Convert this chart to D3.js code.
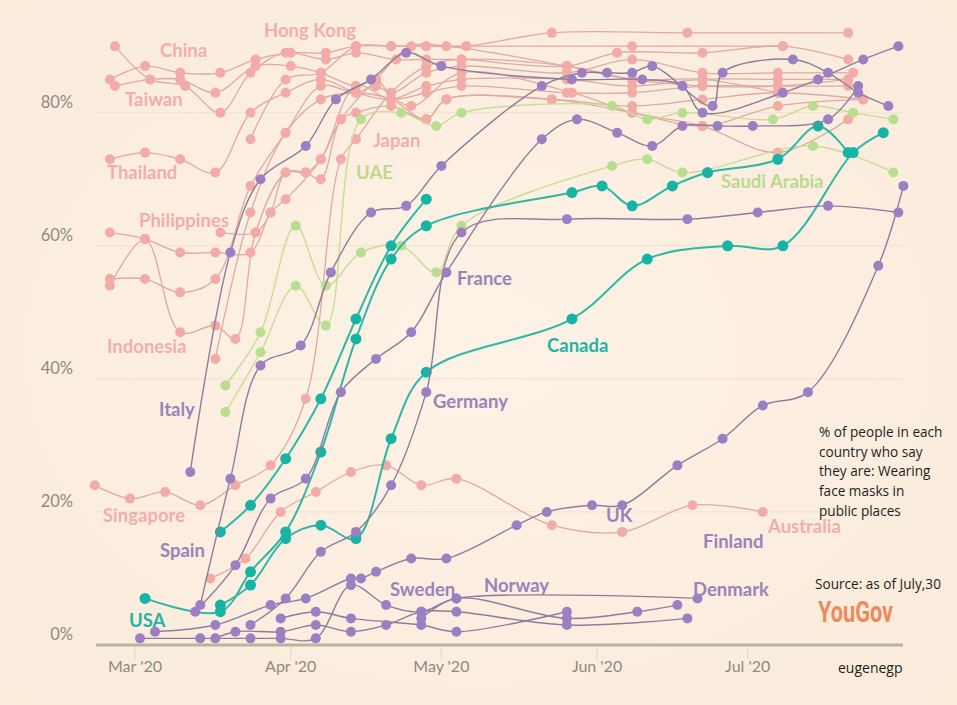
<!DOCTYPE html>
<html><head><meta charset="utf-8">
<script src="https://cdn.jsdelivr.net/npm/d3@7"></script>
<style>
html,body{margin:0;padding:0;background:#fdf0e3;}
svg{display:block;}
</style></head><body>
<svg id="chart" width="957" height="705"></svg>
<script>
// ---------- DATA ----------
const yTicks = [0, 20, 40, 60, 80];
const monthTicks = ["03-01", "04-01", "05-01", "06-01", "07-01"];
const monthLabels = ["Mar '20", "Apr '20", "May '20", "Jun '20", "Jul '20"];

// Asia-Pacific (pink)
const china = [["02-25",85],["03-03",87],["03-10",86],["03-18",86],["03-25",88],["04-01",89],["04-08",89],["04-14",90],["04-21",90],["04-28",90],["05-06",90],["05-23",92],["06-19",92],["07-21",92]];
const hongKong = [["02-26",90],["03-04",85],["03-11",84],["03-18",80],["03-24",86],["03-31",89],["04-08",88],["04-14",89],["04-22",88],["04-28",88],["05-05",88],["05-26",87],["06-05",89],["06-22",89],["07-08",90],["07-21",88]];
const taiwan = [["02-26",84],["03-04",85],["03-10",85],["03-17",83],["03-25",87],["04-01",87],["04-07",86],["04-14",84],["04-18",85],["04-21",83],["04-28",86],["05-05",87],["05-26",86],["06-08",88],["06-22",86],["07-07",86],["07-22",86]];
const thailand = [["02-25",73],["03-03",74],["03-10",73],["03-17",71],["03-24",80],["03-31",83],["04-07",85],["04-14",83],["04-21",82],["04-28",84],["05-05",85],["05-26",85],["06-08",84],["06-22",85],["07-07",85],["07-21",85]];
const philippines = [["02-25",62],["03-03",61],["03-10",59],["03-17",59],["03-24",59],["03-28",65],["03-31",67],["04-07",73],["04-14",84],["04-21",82],["04-28",83],["05-05",84],["05-26",83],["06-08",83],["06-22",84],["07-07",84],["07-21",84]];
const indonesia = [["02-25",54],["03-03",61],["03-10",47],["03-17",48],["03-21",46],["03-25",62],["03-31",71],["04-04",71],["04-07",70],["04-11",79],["04-14",80],["04-21",81],["04-28",79],["05-02",82],["05-23",82],["06-08",81],["06-22",82],["07-07",83],["07-24",82]];
const malaysia = [["02-25",55],["03-03",55],["03-10",53],["03-17",55],["03-24",69],["03-31",77],["04-07",84],["04-14",83],["04-18",84],["04-25",81],["05-05",86],["05-27",83],["06-08",80],["06-22",78],["07-07",74],["07-21",79]];
const singapore = [["02-22",24],["02-29",22],["03-07",23],["03-14",21],["03-21",24],["03-28",27],["04-04",37],["04-11",73],["04-14",76],["04-21",83],["04-28",87],["05-05",88],["05-26",87],["06-08",85],["06-22",84],["07-07",84],["07-21",85]];
const japan = [["03-17",43],["03-24",65],["03-31",77],["04-07",82],["04-14",83],["04-21",82],["04-28",79],["05-02",82],["05-23",82],["06-08",80],["06-22",78],["07-07",81],["07-24",82]];
const india = [["03-18",62],["03-25",62],["03-28",65],["03-31",71],["04-04",71],["04-07",73],["04-11",79],["04-18",85],["04-25",90],["05-02",90],["05-26",87],["06-08",85],["06-22",85],["07-07",83]];
const vietnam = [["03-24",76],["03-31",85],["04-07",86],["04-14",90],["04-21",90],["04-28",90],["05-06",90],["06-08",90],["07-08",90]];
const australia = [["03-16",10],["03-23",13],["03-30",20],["04-06",23],["04-13",26],["04-20",27],["04-27",24],["05-04",25],["05-23",18],["06-06",17],["06-20",21],["07-04",20]];

// Middle East (green)
const uae = [["03-19",35],["03-26",44],["04-02",54],["04-08",48],["04-15",79],["04-23",80],["04-30",78],["05-05",80],["06-04",81],["06-11",79],["06-18",80],["07-06",79],["07-14",81],["07-22",80],["07-30",79]];
const saudiArabia = [["03-19",39],["03-26",47],["04-02",63],["04-08",54],["04-15",59],["04-23",60],["04-30",56],["05-05",63],["06-04",72],["06-11",73],["06-18",71],["07-14",75],["07-30",71]];

// North America (teal)
const usa = [["03-03",7],["03-18",5],["03-24",11],["03-31",17],["04-07",29],["04-14",46],["04-21",58],["04-28",63],["05-27",68],["06-02",69],["06-08",66],["06-16",69],["06-23",71],["07-07",73],["07-15",78],["07-21",74]];
const canada = [["03-18",6],["03-24",9],["03-31",16],["04-07",18],["04-14",16],["04-21",31],["04-28",41],["05-27",49],["06-11",58],["06-27",60],["07-08",60],["07-22",74],["07-28",77]];
const mexico = [["03-18",17],["03-24",21],["03-31",28],["04-07",37],["04-14",49],["04-21",60],["04-28",67]];

// Europe (purple)
const italy = [["03-12",26],["03-20",59],["03-26",70],["04-04",75],["04-10",82],["04-17",85],["04-24",89],["05-01",87],["05-27",85],["06-10",85],["06-18",84],["06-22",80],["07-08",83],["07-15",85],["07-24",88],["07-31",90]];
const spain = [["03-14",6],["03-20",25],["03-26",42],["04-03",45],["04-09",56],["04-17",65],["04-24",66],["05-01",72],["05-21",84],["05-29",86],["06-03",86],["06-08",86],["06-12",87],["06-24",81],["06-26",86],["07-10",88],["07-17",86],["07-23",83],["07-29",81]];
const france = [["03-13",5],["03-21",12],["03-28",22],["04-04",25],["04-11",38],["04-18",43],["04-25",47],["05-02",56],["05-21",76],["05-28",79],["06-05",77],["06-12",75],["06-18",78],["06-25",78],["07-02",78],["07-17",79],["07-23",84]];
const germany = [["03-24",3],["03-31",7],["04-07",14],["04-14",17],["04-21",24],["04-28",38],["05-05",62],["05-26",64],["06-19",64],["07-03",65],["07-17",66],["07-31",65]];
const uk = [["03-05",2],["03-17",3],["03-28",6],["04-04",7],["04-13",10],["04-15",10],["04-18",11],["04-25",13],["05-02",13],["05-16",18],["05-22",20],["05-31",21],["06-06",21],["06-17",27],["06-26",31],["07-04",36],["07-13",38],["07-27",57],["08-01",69]];
const denmark = [["03-02",1],["03-14",1],["03-24",1],["03-30",1],["04-06",1],["04-13",9],["04-20",6],["04-27",5],["05-04",7],["06-21",7]];
const sweden = [["03-17",1],["03-21",2],["03-30",2],["04-06",3],["04-13",2],["04-20",3],["04-27",5],["05-04",5],["05-26",3],["06-19",4]];
const norway = [["03-30",4],["04-06",5],["04-13",4],["04-27",3],["05-04",2],["05-26",5]];
const finland = [["04-27",4],["05-04",7],["05-26",4],["06-09",5],["06-17",6]];

const series = [
  {name:"China", group:"asia", data:china},
  {name:"Hong Kong", group:"asia", data:hongKong},
  {name:"Taiwan", group:"asia", data:taiwan},
  {name:"Thailand", group:"asia", data:thailand},
  {name:"Philippines", group:"asia", data:philippines},
  {name:"Indonesia", group:"asia", data:indonesia},
  {name:"Malaysia", group:"asia", data:malaysia},
  {name:"Singapore", group:"asia", data:singapore},
  {name:"Japan", group:"asia", data:japan},
  {name:"India", group:"asia", data:india},
  {name:"Vietnam", group:"asia", data:vietnam},
  {name:"Australia", group:"asia", data:australia},
  {name:"UAE", group:"mideast", data:uae},
  {name:"Saudi Arabia", group:"mideast", data:saudiArabia},
  {name:"USA", group:"namerica", data:usa},
  {name:"Canada", group:"namerica", data:canada},
  {name:"Mexico", group:"namerica", data:mexico},
  {name:"Italy", group:"europe", data:italy},
  {name:"Spain", group:"europe", data:spain},
  {name:"France", group:"europe", data:france},
  {name:"Germany", group:"europe", data:germany},
  {name:"UK", group:"europe", data:uk},
  {name:"Denmark", group:"europe", data:denmark},
  {name:"Sweden", group:"europe", data:sweden},
  {name:"Norway", group:"europe", data:norway},
  {name:"Finland", group:"europe", data:finland}
];

// ---------- STYLE / LAYOUT ----------
const styles = {
  asia:     {line:"#dfa9a4", dot:"#f3aba7", label:"#f1aeab", lw:1.3, r:5},
  mideast:  {line:"#c9db95", dot:"#b9de8f", label:"#bcd98f", lw:1.4, r:5},
  namerica: {line:"#2fb7a6", dot:"#17b4a6", label:"#25b4a4", lw:2.0, r:5.5},
  europe:   {line:"#8d7d9d", dot:"#9c7fc3", label:"#9883bb", lw:1.4, r:5}
};

const labelLayout = [
  {t:"China", g:"asia", x:160, y:52},
  {t:"Hong Kong", g:"asia", x:264, y:32},
  {t:"Taiwan", g:"asia", x:125, y:101},
  {t:"Thailand", g:"asia", x:107, y:174},
  {t:"Philippines", g:"asia", x:139, y:222},
  {t:"Indonesia", g:"asia", x:107, y:348},
  {t:"Italy", g:"europe", x:159, y:411},
  {t:"Singapore", g:"asia", x:103, y:517},
  {t:"Spain", g:"europe", x:160, y:552},
  {t:"USA", g:"namerica", x:129, y:622},
  {t:"Japan", g:"asia", x:373, y:142},
  {t:"UAE", g:"mideast", x:356, y:174},
  {t:"France", g:"europe", x:457, y:280},
  {t:"Canada", g:"namerica", x:547, y:347},
  {t:"Germany", g:"europe", x:433, y:403},
  {t:"Sweden", g:"europe", x:390, y:591},
  {t:"Norway", g:"europe", x:484, y:587},
  {t:"UK", g:"europe", x:606, y:517},
  {t:"Finland", g:"europe", x:703, y:543},
  {t:"Denmark", g:"europe", x:693, y:591},
  {t:"Australia", g:"asia", x:768, y:528},
  {t:"Saudi Arabia", g:"mideast", x:721, y:183}
];

const parse = d3.timeParse("%Y-%m-%d");
const pd = s => parse("2020-" + s);

const svg = d3.select("#chart");
const W = 957, H = 705;

// background with soft vignette
const defs = svg.append("defs");
const rg = defs.append("radialGradient").attr("id","bg").attr("cx","50%").attr("cy","50%").attr("r","70%");
rg.append("stop").attr("offset","0%").attr("stop-color","#fdf2e6");
rg.append("stop").attr("offset","100%").attr("stop-color","#faebdb");
svg.append("rect").attr("width",W).attr("height",H).attr("fill","url(#bg)");

const x = d3.scaleTime().domain([pd("03-01"), pd("07-01")]).range([135, 747.7]);
const y = d3.scaleLinear().domain([0, 80]).range([645, 112.7]);
const plotLeft = 96, plotRight = 903;

// gridlines
svg.append("g").selectAll("line").data(yTicks.filter(d => d > 0)).join("line")
  .attr("x1", plotLeft).attr("x2", plotRight)
  .attr("y1", d => y(d)).attr("y2", d => y(d))
  .attr("stroke", "#f1e0cf").attr("stroke-width", 1);

// y labels
svg.append("g").selectAll("text").data(yTicks).join("text")
  .attr("x", 73).attr("y", d => y(d) - 9)
  .attr("text-anchor", "end").attr("dominant-baseline", "middle")
  .attr("font-family", "Lato, 'Open Sans', sans-serif").attr("font-size", 16.5)
  .attr("fill", "#8d8a82")
  .text(d => d + "%");

// x ticks and labels
const mt = monthTicks.map(pd);
svg.append("g").selectAll("line").data(mt).join("line")
  .attr("x1", d => x(d)).attr("x2", d => x(d))
  .attr("y1", 646).attr("y2", 660)
  .attr("stroke", "#ddd9c8").attr("stroke-width", 1);
svg.append("g").selectAll("text").data(mt).join("text")
  .attr("x", d => x(d)).attr("y", 668)
  .attr("text-anchor", "middle").attr("dominant-baseline", "middle")
  .attr("font-family", "Lato, 'Open Sans', sans-serif").attr("font-size", 16)
  .attr("fill", "#8d8a82")
  .text((d, i) => monthLabels[i]);

// baseline
svg.append("line").attr("x1", plotLeft).attr("x2", plotRight)
  .attr("y1", y(0)).attr("y2", y(0))
  .attr("stroke", "#b6b5a0").attr("stroke-width", 3);

const line = d3.line()
  .x(d => x(pd(d[0])))
  .y(d => y(d[1]))
  .curve(d3.curveCatmullRom.alpha(0.5));

const order = ["asia", "mideast", "namerica", "europe"];
order.forEach(g => {
  const st = styles[g];
  const gs = series.filter(s => s.group === g);
  const gg = svg.append("g");
  gg.selectAll("path").data(gs).join("path")
    .attr("d", s => line(s.data))
    .attr("fill", "none").attr("stroke", st.line).attr("stroke-width", st.lw);
  gs.forEach(s => {
    gg.append("g").selectAll("circle").data(s.data).join("circle")
      .attr("cx", d => x(pd(d[0]))).attr("cy", d => y(d[1]))
      .attr("r", st.r).attr("fill", st.dot);
  });
});

// country labels
svg.append("g").selectAll("text").data(labelLayout).join("text")
  .attr("x", d => d.x).attr("y", d => d.y)
  .attr("dominant-baseline", "middle")
  .attr("font-family", "Lato, 'Open Sans', sans-serif")
  .attr("font-weight", 700).attr("font-size", 18.5)
  .attr("fill", d => styles[d.g].label)
  .text(d => d.t);

// annotation text
const note = ["% of people in each", "country who say", "they are: Wearing", "face masks in", "public places"];
svg.append("g").selectAll("text").data(note).join("text")
  .attr("x", 819).attr("y", (d, i) => 437 + i * 19.7)
  .attr("font-family", "'Open Sans', sans-serif").attr("font-size", 13.6)
  .attr("fill", "#1e1e1e")
  .text(d => d);

svg.append("text").attr("x", 815).attr("y", 589)
  .attr("font-family", "'Open Sans', sans-serif").attr("font-size", 13.6)
  .attr("fill", "#1e1e1e").text("Source: as of July,30");

svg.append("text").attr("x", 818).attr("y", 622)
  .attr("font-family", "'Liberation Sans Narrow', 'Roboto', sans-serif")
  .attr("font-weight", 700)
  .attr("font-size", 29).attr("fill", "#ec8a5c")
  .attr("textLength", 75).attr("lengthAdjust", "spacingAndGlyphs")
  .text("YouGov");

svg.append("text").attr("x", 838).attr("y", 673)
  .attr("font-family", "'Open Sans', sans-serif").attr("font-size", 14)
  .attr("fill", "#1e1e1e").text("eugenegp");
</script>
</body></html>
